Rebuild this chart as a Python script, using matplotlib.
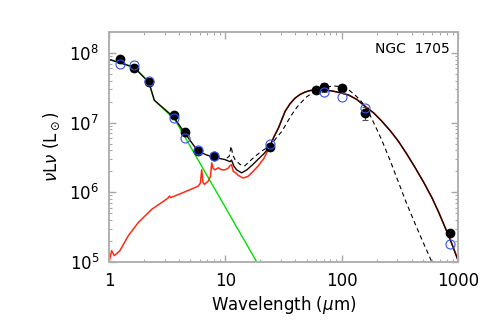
import matplotlib
matplotlib.use("Agg")
import matplotlib.pyplot as plt
import numpy as np
from matplotlib.ticker import FuncFormatter, LogLocator

plt.rcParams["font.family"] = ["DejaVu Sans"]

# stellar component (green)
star_wave = [1.0, 1.25, 1.65, 2.2, 2.45, 3.69, 18.6, 25.0]
star_lum = [8.1e7, 7.3e7, 6.2e7, 3.8e7, 2.1e7, 1.1e7, 1.0e5, 4.3e4]

# dust emission up to 24 um (red)
dust_wave = [1.0, 1.054, 1.11, 1.24, 1.47, 1.79, 2.33, 3.2, 3.3, 3.4, 4.21, 5.49,
             5.86, 6.1, 6.26, 6.42, 6.6, 7.14, 7.45, 7.63, 7.85, 8.15, 8.7, 9.3,
             9.9, 10.5, 10.96, 11.3, 11.7, 12.3, 12.9, 14.2, 15.7, 17.3, 19.2, 21.5]
dust_lum = [1.0e5, 1.45e5, 1.23e5, 1.45e5, 2.4e5, 3.7e5, 5.7e5, 8.2e5, 8.8e5, 8.4e5,
            9.7e5, 1.17e6, 1.23e6, 1.35e6, 2.1e6, 1.4e6, 1.3e6, 1.45e6, 1.7e6,
            2.65e6, 2.2e6, 2.1e6, 2.25e6, 2.1e6, 2.1e6, 2.2e6, 2.4e6, 2.5e6, 2.0e6,
            1.9e6, 1.75e6, 1.6e6, 1.7e6, 2.0e6, 2.4e6, 3.1e6]

# total model, near/mid-IR part (black)
nir_wave = [1.0, 1.65, 2.2, 2.45, 3.6, 4.5, 5.8, 7.0, 8.15, 9.0, 9.9, 11.0, 11.3,
            11.8, 12.5, 13.8, 15.3, 17.2, 19.2, 21.5]
nir_lum = [8.1e7, 6.2e7, 3.8e7, 2.1e7, 1.2e7, 7.0e6, 3.9e6, 3.4e6, 3.2e6, 3.05e6,
           2.95e6, 2.75e6, 2.9e6, 2.4e6, 2.1e6, 1.9e6, 2.1e6, 2.5e6, 3.0e6, 3.6e6]

# far-IR part shared by total and dust
fir_wave = [24, 26.2, 28.6, 32.6, 35.8, 39.7, 44, 48.4, 53, 59, 68, 82, 96, 114,
            135, 159, 188, 221, 262, 307, 360, 428, 505, 595, 680, 775, 880, 1000]
fir_lum = [4.5e6, 6.3e6, 8.4e6, 1.45e7, 1.85e7, 2.25e7, 2.55e7, 2.75e7, 2.88e7,
           2.96e7, 2.96e7, 2.86e7, 2.7e7, 2.5e7, 2.15e7, 1.71e7, 1.38e7, 1.05e7,
           7.6e6, 5.4e6, 3.6e6, 2.25e6, 1.4e6, 8.4e5, 5.2e5, 3.1e5, 1.85e5, 1.05e5]

# alternative model (dashed)
alt_wave = [10.3, 10.8, 11.2, 11.6, 12.1, 13.4, 14.7, 16.8, 18.5, 20.5, 22.5, 25,
            27.5, 30.6, 33.8, 37.2, 41, 45.5, 50, 55.5, 63, 72, 85, 100, 115, 130,
            148, 169, 194, 221, 262, 307, 360, 428, 505, 595, 700]
alt_lum = [3.1e6, 3.3e6, 4.6e6, 3.4e6, 2.96e6, 2.5e6, 2.4e6, 2.96e6, 3.4e6, 3.9e6,
           4.3e6, 4.9e6, 6.1e6, 7.5e6, 1.0e7, 1.3e7, 1.65e7, 2.0e7, 2.35e7, 2.65e7,
           3.0e7, 3.25e7, 3.35e7, 3.3e7, 2.95e7, 2.5e7, 2.0e7, 1.45e7, 9.0e6, 5.6e6,
           2.8e6, 1.4e6, 7.0e5, 3.5e5, 1.85e5, 1.0e5, 5.0e4]

# observed photometry
phot_wave = [1.25, 1.65, 2.2, 3.6, 4.5, 5.8, 8.0, 24, 60, 70, 100, 160, 850]
phot_lum = [8.1e7, 6.1e7, 3.8e7, 1.3e7, 7.4e6, 3.9e6, 3.3e6, 4.4e6, 2.9e7, 3.2e7,
            3.15e7, 1.38e7, 2.6e5]
phot_err = [0.05, 0.05, 0.05, 0.05, 0.05, 0.08, 0.08, 0.05, 0.05, 0.15, 0.05, 0.2, 0.1]

# model photometry
model_wave = [1.25, 1.65, 2.2, 3.6, 4.5, 5.8, 8.0, 24, 70, 100, 160, 850]
model_lum = [7.0e7, 6.7e7, 4.0e7, 1.17e7, 6.0e6, 4.1e6, 3.3e6, 5.0e6, 2.8e7, 2.3e7,
             1.6e7, 1.8e5]


def style_axes(ax):
    ax.set_xscale("log")
    ax.set_yscale("log")
    ax.set_xlim(1, 1000)
    ax.set_ylim(1e5, 2e8)
    for sp in ax.spines.values():
        sp.set_color("#b0b0b0")
        sp.set_linewidth(1.4)
    ax.tick_params(which="both", direction="in", top=True, right=True,
                   color="#a8a8a8", labelsize=12, pad=7)
    ax.tick_params(which="major", length=5, width=1)
    ax.tick_params(which="minor", length=2.5, width=0.8)
    ax.yaxis.set_major_locator(LogLocator(base=10, numticks=10))
    ax.xaxis.set_major_formatter(FuncFormatter(lambda v, p: f"{v:g}"))


def main():
    fig = plt.figure(figsize=(4.91, 3.27), dpi=100)
    ax = fig.add_axes([0.222, 0.199, 0.711, 0.703])

    red_wave = dust_wave + fir_wave
    red_lum = dust_lum + fir_lum
    tot_wave = nir_wave + fir_wave
    tot_lum = nir_lum + fir_lum

    ax.plot(star_wave, star_lum, color="#00e000", lw=1.0)
    ax.plot(red_wave, red_lum, color="#ff2a10", lw=1.1)
    ax.plot(tot_wave, tot_lum, color="#1a0500", lw=1.0)
    ax.plot(alt_wave, alt_lum, color="black", lw=0.8, ls=(0, (4, 3)))

    lum = np.array(phot_lum)
    err = lum * np.array(phot_err)
    ax.errorbar(phot_wave, lum, yerr=err, fmt="none", ecolor="#505050",
                elinewidth=0.8, capsize=2.5, capthick=0.8)
    ax.plot(phot_wave, lum, "o", color="black", ms=6)
    ax.plot(model_wave, model_lum, "o", mfc="none", mec="#3355ee", mew=0.8, ms=6.5)

    style_axes(ax)
    ax.set_xlabel(r"Wavelength ($\mu$m)", fontsize=12, labelpad=3)
    ax.set_ylabel(r"$\nu$L$\nu$ (L$_\odot$)", fontsize=12)
    ax.yaxis.set_label_coords(-0.135, 0.5)
    ax.text(0.975, 0.925, "NGC  1705", transform=ax.transAxes, ha="right",
            va="center", fontsize=10)

    fig.savefig("out.png", dpi=100)


if __name__ == "__main__":
    main()
